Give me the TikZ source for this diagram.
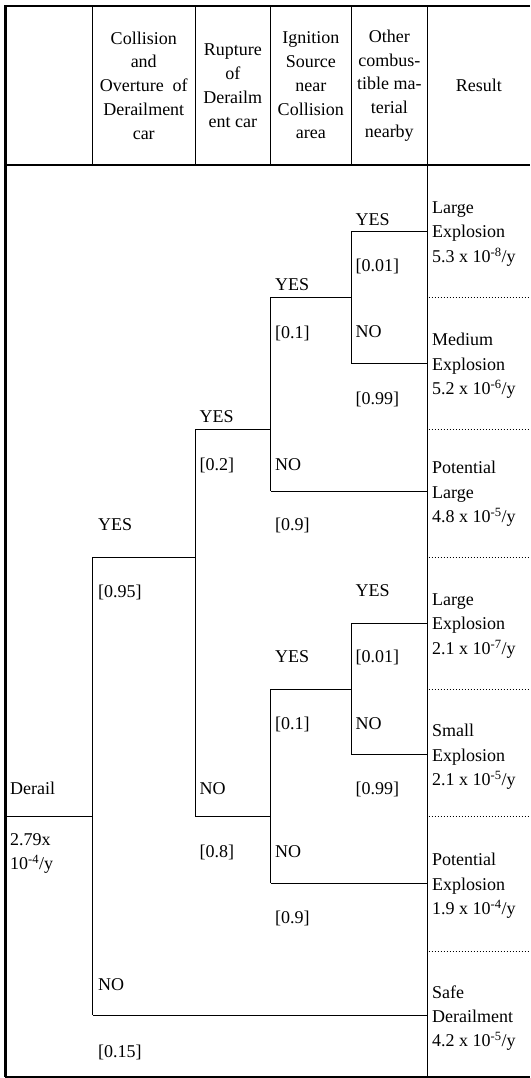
\documentclass[tikz,border=0pt]{standalone}
\usepackage{fontspec}
\setmainfont{Liberation Serif}
\begin{document}
\begin{tikzpicture}[x=1pt,y=-1pt,
  tree/.style={line width=1pt},
  gridline/.style={line width=1pt},
  framel/.style={line width=2.6pt},
  sepline/.style={line width=1pt, dash pattern=on 1pt off 2pt},
  lbl/.style={anchor=base west, inner sep=0pt, font=\fontsize{18}{24.4}\selectfont},
  head/.style={align=center, inner sep=0pt, font=\fontsize{18}{23.8}\selectfont},
  res/.style={anchor=west, align=left, inner sep=0pt, font=\fontsize{18}{24.4}\selectfont}]
\useasboundingbox (0,0) rectangle (530,1078);
% frame and table lines
\draw[framel] (530,6) -- (5.5,6) -- (5.5,1076.5);
\draw[line width=2pt] (4.5,1076.5) -- (530,1076.5);
\draw[line width=1.3pt] (5.5,165) -- (530,165);
\foreach \xx in {92.5,195,270.5,351} \draw[gridline] (\xx,6) -- (\xx,165);
\draw[gridline] (427.5,6) -- (427.5,1076.5);
% result separators
\foreach \yy in {297,429,557,689,816,951} \draw[sepline] (428.5,\yy) -- (530,\yy);
% header texts
\node[head] (h1) at (143.75,85.5) {Collision\\and\\Overture\ \ of\\Derailment\\car};
\node[head] (h2) at (232.75,85.5) {Rupture\\of\\Derailm\\ent car};
\node[head] (h3) at (310.75,85.5) {Ignition\\Source\\near\\Collision\\area};
\node[head] (h4) at (389.25,85.5) {Other\\combus-\\tible ma-\\terial\\nearby};
\node[head] (h5) at (478.75,85.5) {Result};
% branch coordinates
\coordinate (d0) at (5.5,816);
\coordinate (c1y) at (92.5,557);  \coordinate (c1m) at (92.5,816);  \coordinate (c1n) at (92.5,1015);
\coordinate (c2y) at (195,429);   \coordinate (c2a) at (195,557);   \coordinate (c2n) at (195,816);
\coordinate (c3ay) at (270.5,297); \coordinate (c3a) at (270.5,429); \coordinate (c3an) at (270.5,491);
\coordinate (c3by) at (270.5,689); \coordinate (c3b) at (270.5,816); \coordinate (c3bn) at (270.5,883);
\coordinate (c4ay) at (351,231); \coordinate (c4a) at (351,297); \coordinate (c4an) at (351,363);
\coordinate (c4by) at (351,623); \coordinate (c4b) at (351,689); \coordinate (c4bn) at (351,754);
\coordinate (e1) at (427.5,231); \coordinate (e2) at (427.5,363); \coordinate (e3) at (427.5,491);
\coordinate (e4) at (427.5,623); \coordinate (e5) at (427.5,754); \coordinate (e6) at (427.5,883);
\coordinate (e7) at (427.5,1015);
% tree
\draw[tree] (d0) -- (c1m);
\draw[tree] (c1y) -- (c1n);
\draw[tree] (c1y) -- (c2a);
\draw[tree] (c1n) -- (e7);
\draw[tree] (c2y) -- (c2n);
\draw[tree] (c2y) -- (c3a);
\draw[tree] (c2n) -- (c3b);
\draw[tree] (c3ay) -- (c3an);
\draw[tree] (c3ay) -- (c4a);
\draw[tree] (c3an) -- (e3);
\draw[tree] (c3by) -- (c3bn);
\draw[tree] (c3by) -- (c4b);
\draw[tree] (c3bn) -- (e6);
\draw[tree] (c4ay) -- (c4an);
\draw[tree] (c4ay) -- (e1);
\draw[tree] (c4an) -- (e2);
\draw[tree] (c4by) -- (c4bn);
\draw[tree] (c4by) -- (e4);
\draw[tree] (c4bn) -- (e5);
% labels col4 upper
\node[lbl] (l4ay) at (355.5,225) {YES};
\node[lbl] (p4ay) at (355.5,271) {[0.01]};
\node[lbl] (l4an) at (355.5,337.5) {NO};
\node[lbl] (p4an) at (355.5,404) {[0.99]};
% col3 upper
\node[lbl] (l3ay) at (275,290.5) {YES};
\node[lbl] (p3ay) at (275,338) {[0.1]};
\node[lbl] (l3an) at (275,470) {NO};
\node[lbl] (p3an) at (275,530.5) {[0.9]};
% col2
\node[lbl] (l2y) at (199.5,422) {YES};
\node[lbl] (p2y) at (199.5,470) {[0.2]};
\node[lbl] (l2n) at (199.5,794) {NO};
\node[lbl] (p2n) at (199.5,857.5) {[0.8]};
% col1
\node[lbl] (l1y) at (98,530.5) {YES};
\node[lbl] (p1y) at (98,597) {[0.95]};
\node[lbl] (l1n) at (98,990.5) {NO};
\node[lbl] (p1n) at (98,1057) {[0.15]};
% col4 lower
\node[lbl] (l4by) at (355.5,596.5) {YES};
\node[lbl] (p4by) at (355.5,662) {[0.01]};
\node[lbl] (l4bn) at (355.5,729) {NO};
\node[lbl] (p4bn) at (355.5,794) {[0.99]};
% col3 lower
\node[lbl] (l3by) at (275,662.5) {YES};
\node[lbl] (p3by) at (275,729) {[0.1]};
\node[lbl] (l3bn) at (275,857.5) {NO};
\node[lbl] (p3bn) at (275,923.5) {[0.9]};
% initiating event
\node[lbl] (der) at (10,794) {Derail};
\node[lbl] (rate1) at (10,845) {2.79x};
\node[lbl] (rate2) at (10,869.5) {10\textsuperscript{-4}/y};
% results
\node[res] (r1) at (432,234) {Large\\Explosion\\5.3 x 10\textsuperscript{-8}/y};
\node[res] (r2) at (432,366) {Medium\\Explosion\\5.2 x 10\textsuperscript{-6}/y};
\node[res] (r3) at (432,494) {Potential\\Large\\4.8 x 10\textsuperscript{-5}/y};
\node[res] (r4) at (432,626) {Large\\Explosion\\2.1 x 10\textsuperscript{-7}/y};
\node[res] (r5) at (432,757) {Small\\Explosion\\2.1 x 10\textsuperscript{-5}/y};
\node[res] (r6) at (432,886) {Potential\\Explosion\\1.9 x 10\textsuperscript{-4}/y};
\node[res] (r7) at (432,1018) {Safe\\Derailment\\4.2 x 10\textsuperscript{-5}/y};
\end{tikzpicture}
\end{document}
